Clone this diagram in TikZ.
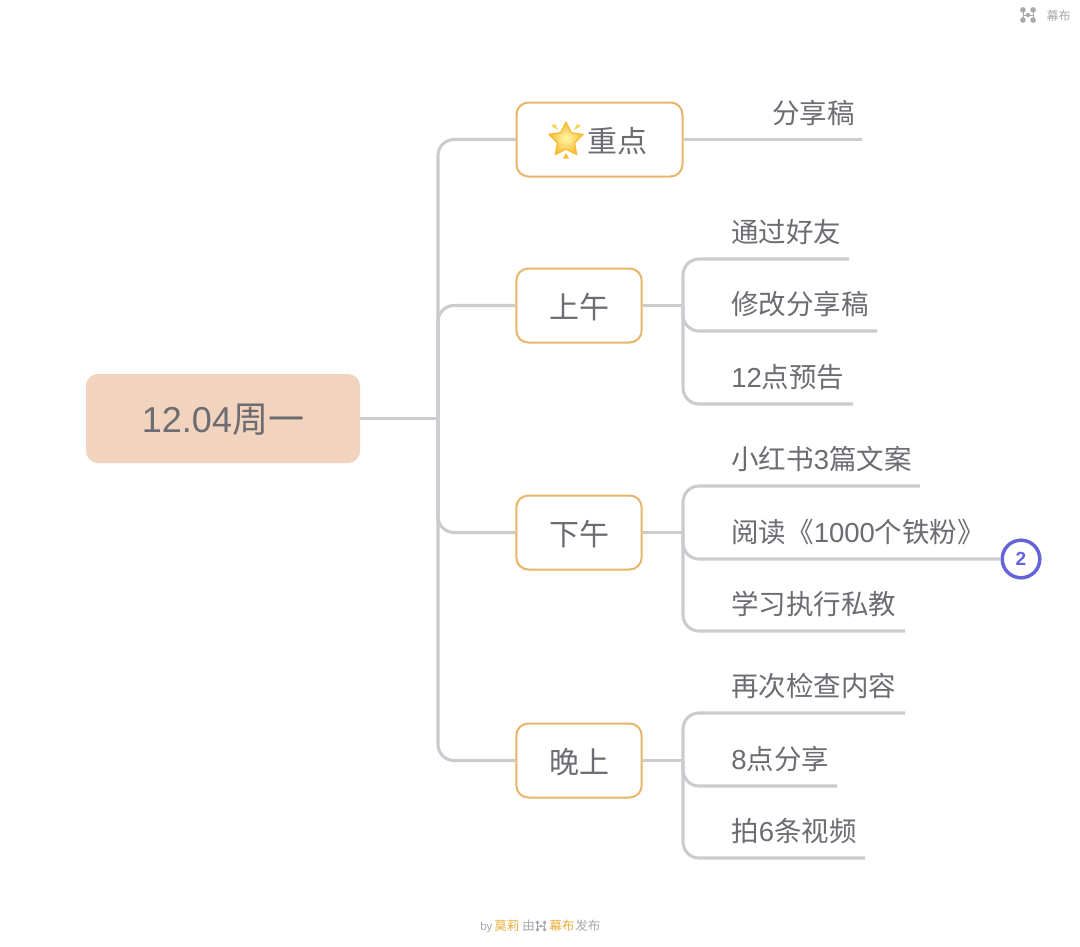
\documentclass[tikz,border=0pt]{standalone}
\usepackage{fontspec}
\setmainfont{Noto Sans CJK SC}
\newfontfamily\latf{Liberation Sans}
\usetikzlibrary{shapes.geometric}
\definecolor{linegray}{HTML}{CBCBD0}
\definecolor{txt}{HTML}{6C6C72}
\definecolor{boxline}{HTML}{E8B56A}
\definecolor{rootfill}{HTML}{F2D3BD}
\definecolor{badge}{HTML}{6464D8}
\definecolor{footgray}{HTML}{A8A8AE}
\definecolor{footgold}{HTML}{E8AE3C}
\definecolor{stardeep}{HTML}{F9BC35}
\definecolor{starpale}{HTML}{FFF6A8}
\definecolor{rayc}{HTML}{F9D35A}
\newcommand{\fpx}[1]{\fontsize{\the\dimexpr #1pt*3/4\relax}{\the\dimexpr #1pt*9/10\relax}\selectfont}
\newcommand{\lowered}[1]{\raisebox{-1.2pt}[\height][\depth]{#1}}
\newcommand{\logomark}[3]{%
  \begin{scope}[shift={(#1,#2)},x=#3pt,y=-#3pt]
    \draw[footgray,line width=0.5pt] (-1,-1)--(-1,1) (1,-1)--(1,1) (-1,0)--(1,0);
    \fill[footgray] (-1,-1) circle (.55) (-1,1) circle (.55) (1,-1) circle (.55) (1,1) circle (.55) (0,0) circle (.42);
  \end{scope}}
\tikzset{
  x=0.75pt,y=-0.75pt,
  conn/.style={draw=linegray,line width=2.3pt,rounded corners=12pt,line cap=butt},
  topicbox/.style={draw=boxline,line width=1.5pt,rounded corners=9pt,fill=white,text=txt,font=\fpx{30},inner sep=0pt,minimum height=55.5pt},
  rootbox/.style={fill=rootfill,rounded corners=9pt,text=txt,font=\fpx{36},inner sep=0pt,minimum width=205.5pt,minimum height=66.75pt},
  leaf/.style={anchor=west,text=txt,font=\fpx{27.5},inner sep=0pt},
  footg/.style={anchor=base west,text=footgray,font=\fpx{12.5},inner sep=0pt},
  footy/.style={anchor=base west,text=footgold,font=\fpx{12.5},inner sep=0pt},
}
\begin{document}
\begin{tikzpicture}
\useasboundingbox (0,0) rectangle (1080,946);
\fill[white] (0,0) rectangle (1080,946);
% nodes
\node[rootbox] (root) at (223,418.5) {\lowered{{\latf 12.04}周一}};
\node[topicbox,minimum width=124.5pt] (t1) at (599.5,139.5) {\lowered{\hspace*{27pt}重点}};
\node[topicbox,minimum width=94pt] (t2) at (579,305.5) {\lowered{上午}};
\node[topicbox,minimum width=94pt] (t3) at (579,532.5) {\lowered{下午}};
\node[topicbox,minimum width=94pt] (t4) at (579,760.5) {\lowered{晚上}};
% star
\begin{scope}[shift={(566,141)}]
  \node[star,star points=5,star point ratio=2.0,minimum size=27pt,inner sep=0pt,inner color=starpale,outer color=stardeep,draw=stardeep,line width=1pt,line join=round] (st) at (0,-1) {};
  \fill[stardeep] (-3,17.5) -- (3,17.5) -- (0,12) -- cycle;
  \fill[rayc] (-15,-15) -- (-11,-17) -- (-8,-11) -- cycle;
  \fill[rayc] (15,-15) -- (11,-17) -- (8,-11) -- cycle;
\end{scope}
% leaves
\node[leaf] (a1) at (772,113) {分享稿};
\node[leaf] (b1) at (731,232) {通过好友};
\node[leaf] (b2) at (731,304) {修改分享稿};
\node[leaf] (b3) at (731,377) {{\latf 12}点预告};
\node[leaf] (c1) at (731,459) {小红书{\latf 3}篇文案};
\node[leaf] (c2) at (731,532) {阅读《{\latf 1000}个铁粉》};
\node[leaf] (c3) at (731,604) {学习执行私教};
\node[leaf] (d1) at (731,686) {再次检查内容};
\node[leaf] (d2) at (731,759) {{\latf 8}点分享};
\node[leaf] (d3) at (731,831) {拍{\latf 6}条视频};
% badge
\node[circle,draw=badge,line width=2.6pt,fill=white,minimum size=28.2pt,inner sep=0pt,text=badge,font=\fpx{19}\latf\bfseries] (bdg) at (1021,559) {2};
% junctions and ends
\coordinate (j0) at (438,418.5);
\coordinate (hb) at (683,305.5);
\coordinate (hc) at (683,532.5);
\coordinate (hd) at (683,760.5);
\coordinate (ea) at (862,139.5);
\coordinate (eb1) at (849,259); \coordinate (eb2) at (877,331); \coordinate (eb3) at (853,404);
\coordinate (ec1) at (920,486); \coordinate (ec3) at (905,631);
\coordinate (ed1) at (905,713); \coordinate (ed2) at (837,786); \coordinate (ed3) at (865,858);
% connectors
\draw[conn] (root.east) -- (j0);
\draw[conn] (j0) |- (t1.west);
\draw[conn] (j0) |- (t2.west);
\draw[conn] (j0) |- (t3.west);
\draw[conn] (j0) |- (t4.west);
\draw[conn] (t1.east) -- (ea);
\draw[conn] (t2.east) -- (hb);
\draw[conn] (hb) |- (eb1);
\draw[conn] (hb) |- (eb2);
\draw[conn] (hb) |- (eb3);
\draw[conn] (t3.east) -- (hc);
\draw[conn] (hc) |- (ec1);
\draw[conn] (hc) |- (bdg.west);
\draw[conn] (hc) |- (ec3);
\draw[conn] (t4.east) -- (hd);
\draw[conn] (hd) |- (ed1);
\draw[conn] (hd) |- (ed2);
\draw[conn] (hd) |- (ed3);
% top-right logo
\logomark{1028}{15}{3.8}
\node[text=footgray,font=\fpx{12},inner sep=0pt] (brand) at (1058.5,16) {幕布};
% footer
\node[footg] (f1) at (480,930.5) {{\latf\fpx{11.5}by}};
\node[footy] (f2) at (494,930.5) {莫莉};
\node[footg] (f3) at (522,930.5) {由};
\logomark{541}{926}{2.7}
\node[footy] (f4) at (549,930.5) {幕布};
\node[footg] (f5) at (575,930.5) {发布};
\end{tikzpicture}
\end{document}
